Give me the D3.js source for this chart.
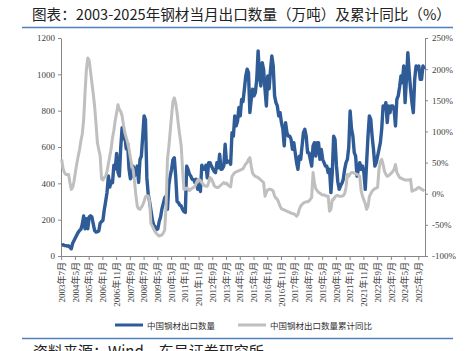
<!DOCTYPE html>
<html>
<head>
<meta charset="utf-8">
<script src="https://cdn.jsdelivr.net/npm/d3@7"></script>
<style>
body { margin: 0; background: #fff; }
svg { display: block; }
.axis path, .axis line { stroke: #868686; }
.axis text { font-family: "Liberation Serif", "Noto Sans CJK SC", serif; font-size: 9px; fill: #404040; }
</style>
</head>
<body>
<div id="chart"></div>
<script>
// monthly categories, 2003年7月 .. 2025年7月
const months = [];
for (let y = 2003, m = 7; y < 2025 || (y === 2025 && m <= 7); m++) {
    if (m > 12) { m = 1; y++; }
    months.push(y + "年" + m + "月");
}

// 中国钢材出口数量 (万吨)
const exportQty = [
    59, 62, 58, 57, 55, 56,
    48, 40, 70, 85, 100, 115, 130, 140, 147, 175, 220, 150,
    205, 150, 215, 222, 215, 175, 140, 132, 134, 138, 180, 190,
    195, 255, 300, 350, 440, 380, 410, 404, 500, 480, 565, 460,
    440, 600, 706, 645, 660, 590, 620, 480, 425, 440, 495, 440,
    470, 495, 405, 530, 550, 660, 771, 750, 430, 340, 300, 250,
    200, 170, 160, 145, 150, 190, 215, 260, 290, 320, 330, 257,
    390, 440, 477, 530, 540, 440, 300, 294, 280, 275, 257, 245,
    240, 495, 477, 450, 440, 422, 422, 404, 422, 367, 390, 355,
    500, 480, 477, 500, 430, 514, 514, 495, 480, 465, 459, 514,
    486, 560, 477, 480, 495, 615, 514, 520, 523, 505, 679, 660,
    771, 716, 740, 817, 771, 862, 850, 918, 991, 1028, 1009, 789,
    862, 918, 881, 900, 973, 1129, 991, 936, 1064, 1028, 918, 826,
    991, 920, 1020, 1101, 1046, 881, 844, 826, 771, 789, 734, 700,
    606, 734, 679, 660, 660, 642, 587, 624, 569, 514, 477, 550,
    532, 606, 679, 697, 660, 569, 569, 532, 495, 606, 624, 550,
    624, 624, 532, 587, 532, 514, 495, 495, 459, 477, 349, 459,
    660, 642, 500, 410, 367, 385, 400, 422, 477, 514, 532, 600,
    798, 700, 660, 569, 550, 440, 477, 514, 477, 495, 459, 367,
    514, 660, 771, 752, 660, 587, 495, 514, 550, 587, 624, 700,
    826, 810, 844, 734, 826, 789, 826, 826, 807, 716, 862, 881,
    930, 991, 954, 1046, 844, 973, 1119, 1009, 918, 844, 789, 973,
    1046, 1028, 1046, 973, 973, 1046, 1028
];

// 中国钢材出口数量累计同比 (%)
const yoyCum = [
    55, 40, 34, 31, 31, 31,
    18, 7, 10, 20, 35, 48, 60, 71, 85, 96, 119, 162,
    200, 218, 214, 196, 178, 160, 140, 112, 82, 71, 61, 24,
    22, 26, 28, 36, 48, 60, 72, 90, 102, 118, 130, 143,
    135, 132, 125, 110, 98, 90, 82, 72, 58, 46, 39, 20,
    -2, -20, -24, -25, -22, -18, -12, -5, -3, -4, -12, -48,
    -52, -57, -61, -64, -66, -68, -67, -66, -63, -58, -20, 55,
    75, 100, 125, 148, 154, 145, 130, 110, 93, 77, 39, 7,
    7, 9, 8, 5, 7, 9, 10, 12, 17, 22, 23, 21,
    18, 15, 13, 12, 12, 18, 26, 24, 19, 13, 11, 10,
    10, 12, 14, 16, 18, 16, 17, 14, 12, 11, 28, 31,
    34, 35, 36, 37, 38, 39, 40, 44, 48, 50, 55, 58,
    44, 33, 30, 28, 27, 26, 24, 22, 20, 18, -4, 2,
    6, 7, 7, 6, 4, -4, -7, -9, -14, -20, -24, -25,
    -26, -27, -28, -29, -30, -31, -32, -32, -34, -36, -33, -25,
    -20, -17, -15, -14, -13, -13, -12, -9, -6, 34, 18, 8,
    5, 2, 1, -1, -2, -2, -3, -4, -4, -28, -25, -10,
    -9, -5, -3, -3, -4, -4, -4, -3, 0, 10, 31, 28,
    32, 34, 34, 33, 32, 31, 30, 28, 5, -4, -10, -16,
    -25, -20, -5, 0, 4, 6, 8, 9, 10, 39, 52, 55,
    47, 36, 31, 28, 29, 31, 33, 36, 39, 47, 34, 30,
    26, 25, 24, 23, 22, 22, 22, 22, 23, 4, 5, 6,
    7, 9, 10, 9, 7, 6, 4
];

const tickLabels = ["2003年7月", "2004年5月", "2005年3月", "2006年1月", "2006年11月", "2007年9月",
    "2008年7月", "2009年5月", "2010年3月", "2011年1月", "2011年11月", "2012年9月", "2013年7月",
    "2014年5月", "2015年3月", "2016年1月", "2016年11月", "2017年9月", "2018年7月", "2019年5月",
    "2020年3月", "2021年1月", "2021年11月", "2022年9月", "2023年7月", "2024年5月", "2025年3月"];
const leftTicks = [0, 200, 400, 600, 800, 1000, 1200];
const rightTicks = [-100, -50, 0, 50, 100, 150, 200, 250];

const width = 473, height = 351;
const margin = {top: 38, left: 61, right: 48, bottom: 95};

const svg = d3.select("#chart").append("svg")
    .attr("width", width)
    .attr("height", height);

// title + rules
svg.append("text")
    .attr("x", 32).attr("y", 20)
    .style("font-family", "'Noto Sans CJK SC', sans-serif")
    .style("font-size", "14.6px")
    .style("fill", "#222")
    .text("图表：2003-2025年钢材当月出口数量（万吨）及累计同比（%）");

svg.append("line")
    .attr("x1", 22).attr("x2", 453).attr("y1", 27.5).attr("y2", 27.5)
    .attr("stroke", "#4f81bd").attr("stroke-width", 1.5);

svg.append("line")
    .attr("x1", 22).attr("x2", 453).attr("y1", 338.5).attr("y2", 338.5)
    .attr("stroke", "#4f81bd").attr("stroke-width", 1.5);

// source note, cut off by the bottom edge as in the original
svg.append("text")
    .attr("x", 33).attr("y", 357)
    .style("font-family", "'Noto Sans CJK SC', sans-serif")
    .style("font-size", "15px")
    .style("fill", "#222")
    .text("资料来源：Wind，东吴证券研究所");

/*
SCALES
*/
const xScale = d3.scaleBand()
    .domain(months)
    .range([margin.left, width - margin.right])
    .padding(0);
const bw = xScale.bandwidth();

const yLeft = d3.scaleLinear()
    .domain([0, 1200])
    .range([height - margin.bottom, margin.top]);
const yRight = d3.scaleLinear()
    .domain([-100, 250])
    .range([height - margin.bottom, margin.top]);

/*
AXES
*/
const baseY = yLeft(0);

svg.append("g")
    .attr("class", "axis")
    .attr("transform", `translate(${margin.left},0)`)
    .call(d3.axisLeft(yLeft).tickValues(leftTicks).tickSize(3).tickPadding(3).tickSizeOuter(0)
        .tickFormat(d3.format("d")));

svg.append("g")
    .attr("class", "axis")
    .attr("transform", `translate(${width - margin.right},0)`)
    .call(d3.axisRight(yRight).tickValues(rightTicks).tickSize(3).tickPadding(4).tickSizeOuter(0)
        .tickFormat(d => d + "%"));

const xAxis = svg.append("g")
    .attr("class", "axis")
    .attr("transform", `translate(0,${baseY})`)
    .call(d3.axisBottom(xScale).tickValues(tickLabels).tickSize(4).tickSizeOuter(0));

xAxis.selectAll("text")
    .attr("transform", "rotate(-90)")
    .attr("x", -6)
    .attr("y", 0)
    .attr("dy", "0.35em")
    .style("text-anchor", "end");

/*
LINES
*/
const qtyLine = d3.line()
    .x((d, i) => xScale(months[i]) + bw / 2)
    .y(d => yLeft(d));

const yoyLine = d3.line()
    .x((d, i) => xScale(months[i]) + bw / 2)
    .y(d => yRight(d));

svg.append("path")
    .datum(exportQty)
    .attr("d", qtyLine)
    .attr("fill", "none")
    .attr("stroke", "#2f5b97")
    .attr("stroke-width", 3.4)
    .attr("stroke-linejoin", "round");

svg.append("path")
    .datum(yoyCum)
    .attr("d", yoyLine)
    .attr("fill", "none")
    .attr("stroke", "#bfbfbf")
    .attr("stroke-width", 3)
    .attr("stroke-linejoin", "round");

/*
LEGEND
*/
const legend = [
    {name: "中国钢材出口数量", color: "#2f5b97", x: 115},
    {name: "中国钢材出口数量累计同比", color: "#bfbfbf", x: 238}
];

legend.forEach(function(d) {
    svg.append("line")
        .attr("x1", d.x).attr("x2", d.x + 28)
        .attr("y1", 325).attr("y2", 325)
        .attr("stroke", d.color).attr("stroke-width", 3);
    svg.append("text")
        .attr("x", d.x + 32).attr("y", 328.5)
        .style("font-family", "'Noto Sans CJK SC', sans-serif")
        .style("font-size", "8.5px")
        .style("fill", "#333")
        .text(d.name);
});
</script>
</body>
</html>
